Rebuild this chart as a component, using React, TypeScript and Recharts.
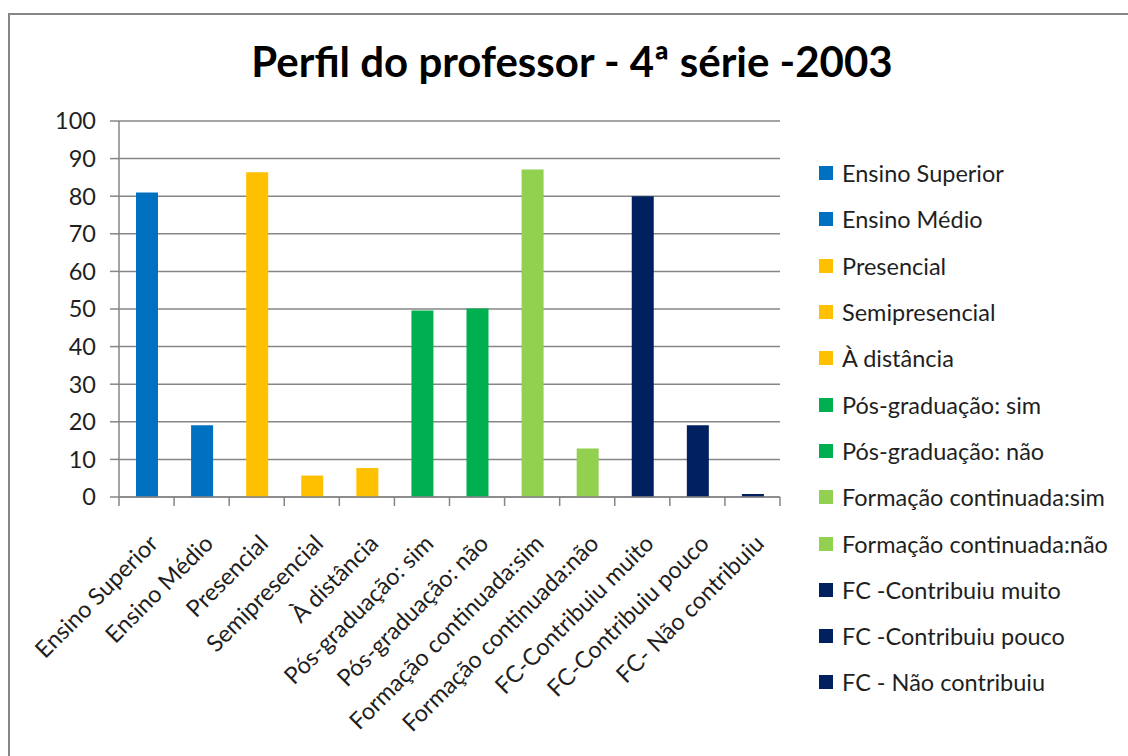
import { Bar, BarChart, CartesianGrid, Cell, Legend, XAxis, YAxis } from "recharts";

const CATEGORIES = [
  "Ensino Superior",
  "Ensino Médio",
  "Presencial",
  "Semipresencial",
  "À distância",
  "Pós-graduação: sim",
  "Pós-graduação: não",
  "Formação continuada:sim",
  "Formação continuada:não",
  "FC -Contribuiu muito",
  "FC -Contribuiu pouco",
  "FC - Não contribuiu",
];
// axis labels are written slightly differently from the legend in the original
const AXIS_LABELS = [
  "Ensino Superior",
  "Ensino Médio",
  "Presencial",
  "Semipresencial",
  "À distância",
  "Pós-graduação: sim",
  "Pós-graduação: não",
  "Formação continuada:sim",
  "Formação continuada:não",
  "FC-Contribuiu muito",
  "FC-Contribuiu pouco",
  "FC- Não contribuiu",
];
const VALUES = [81, 19.1, 86.4, 5.7, 7.7, 49.6, 50.1, 87.1, 12.9, 80, 19.1, 0.8];
const COLORS = [
  "#0070C0",
  "#0070C0",
  "#FFC000",
  "#FFC000",
  "#FFC000",
  "#00B050",
  "#00B050",
  "#92D050",
  "#92D050",
  "#002060",
  "#002060",
  "#002060",
];
const Y_TICKS = [0, 10, 20, 30, 40, 50, 60, 70, 80, 90, 100];

const FONT = "Lato, 'Open Sans', sans-serif";
const TEXT = "#1f1f1f";
const AXIS = "#868686";
const FS = 23.5;

const W = 1120;
const H = 748;
const MARGIN = { top: 113, right: 348, left: 0, bottom: 0 };
const Y_AXIS_W = 111;
const PLOT_H = 376;
const X_AXIS_H = H - MARGIN.top - PLOT_H;
const HALF_BAND = (W - MARGIN.right - Y_AXIS_W) / CATEGORIES.length / 2;

const data = CATEGORIES.map((name, i) => ({ name, label: AXIS_LABELS[i], value: VALUES[i] }));

function CategoryTick({ x, y, payload, index }: any) {
  return (
    <g>
      {index === 0 && (
        <line x1={x - HALF_BAND} x2={x - HALF_BAND} y1={y} y2={y + 9} stroke={AXIS} strokeWidth={1.5} />
      )}
      <line x1={x + HALF_BAND} x2={x + HALF_BAND} y1={y} y2={y + 9} stroke={AXIS} strokeWidth={1.5} />
      <text
        transform={`translate(${x + 13},${y + 48}) rotate(-45)`}
        textAnchor="end"
        fontSize={FS}
        fontFamily={FONT}
        fill={TEXT}
      >
        {AXIS_LABELS[index] ?? payload.value}
      </text>
    </g>
  );
}

function LegendList() {
  return (
    <div style={{ fontFamily: FONT }}>
      {CATEGORIES.map((c, i) => (
        <div key={c} style={{ display: "flex", alignItems: "center", height: 46.3 }}>
          <span style={{ width: 14, height: 14, background: COLORS[i], marginRight: 9, flex: "none" }} />
          <span style={{ fontSize: FS, color: TEXT, whiteSpace: "nowrap" }}>{c}</span>
        </div>
      ))}
    </div>
  );
}

export default function App() {
  // fixed so nothing here can make the page scroll
  return (
    <div
      style={{
        position: "fixed",
        left: 8,
        top: 8,
        width: W,
        height: H,
        overflow: "hidden",
        background: "#fff",
      }}
    >
      <div
        style={{
          position: "absolute",
          left: 0,
          top: 5,
          right: -20,
          bottom: -20,
          borderTop: `2px solid ${AXIS}`,
          borderLeft: `2px solid ${AXIS}`,
        }}
      />
      <div
        style={{
          position: "absolute",
          left: 0,
          width: 1128,
          top: 31.5,
          textAlign: "center",
          fontFamily: FONT,
          fontWeight: 700,
          fontSize: 42,
          lineHeight: "42px",
          color: "#000",
          whiteSpace: "nowrap",
        }}
      >
        Perfil do professor - 4ª série -2003
      </div>
      <div style={{ position: "absolute", left: 0, top: 0 }}>
        <BarChart width={W} height={H} data={data} margin={MARGIN}>
          <CartesianGrid horizontal vertical={false} stroke={AXIS} strokeWidth={1.5} />
          <XAxis
            dataKey="name"
            interval={0}
            height={X_AXIS_H}
            tickLine={false}
            tickSize={0}
            tickMargin={0}
            stroke={AXIS}
            strokeWidth={1.5}
            tick={<CategoryTick />}
          />
          <YAxis
            width={Y_AXIS_W}
            domain={[0, 100]}
            ticks={Y_TICKS}
            interval={0}
            tickSize={9}
            tickMargin={14}
            stroke={AXIS}
            strokeWidth={1.5}
            tick={{ fontSize: FS, fontFamily: FONT, fill: TEXT }}
          />
          <Legend
            layout="horizontal"
            verticalAlign="middle"
            align="center"
            wrapperStyle={{ left: 811, top: 142, width: 305 }}
            content={() => <LegendList />}
          />
          <Bar dataKey="value" barSize={22} isAnimationActive={false}>
            {data.map((d, i) => (
              <Cell key={d.name} fill={COLORS[i]} />
            ))}
          </Bar>
        </BarChart>
      </div>
    </div>
  );
}
